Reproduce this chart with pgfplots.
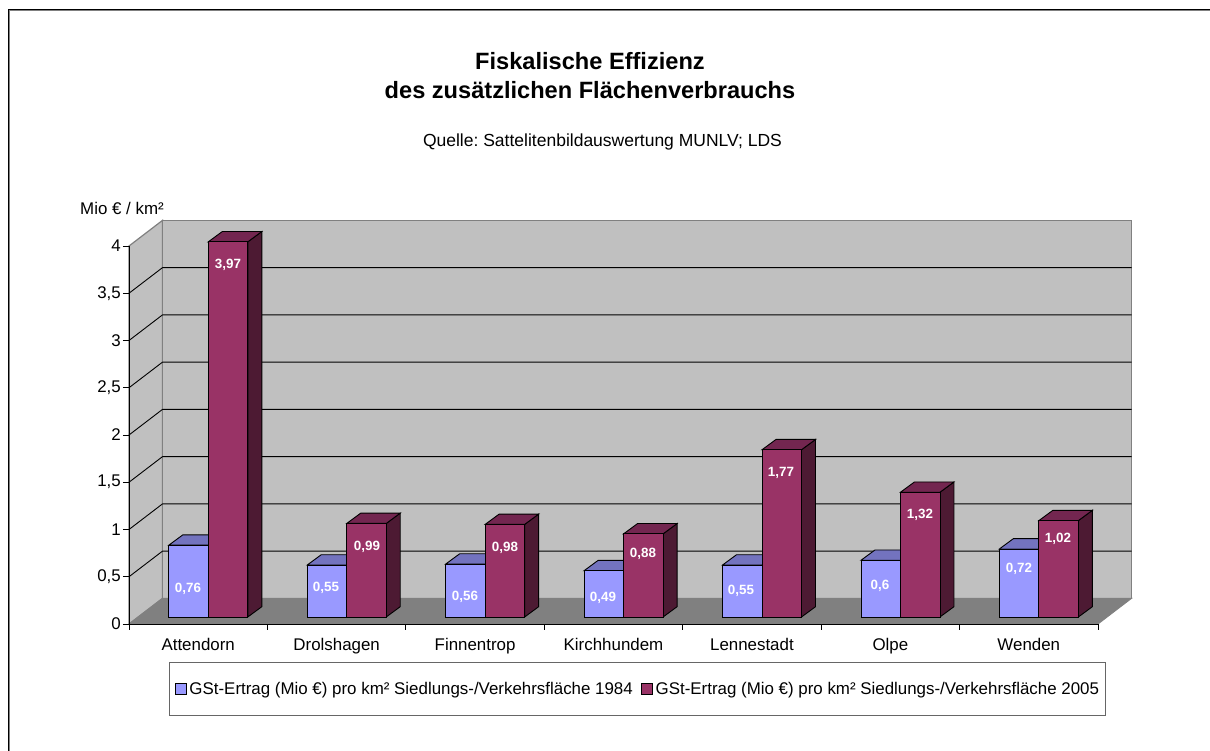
\documentclass[border=0pt]{standalone}
\usepackage{fontspec}
\setmainfont{Liberation Sans}
\usepackage{pgfplots}
\usepackage{pgfplotstable}
\pgfplotsset{compat=1.18}

\definecolor{wall}{HTML}{C0C0C0}
\definecolor{floorc}{HTML}{808080}
\definecolor{edgec}{HTML}{808080}
\definecolor{barA}{HTML}{9999FF}
\definecolor{barAtop}{HTML}{7373BF}
\definecolor{barB}{HTML}{993366}
\definecolor{barBtop}{HTML}{732650}
\definecolor{barBside}{HTML}{4D1A33}

\newcommand\fs[1]{\fontsize{#1}{#1}\selectfont}

% x = category centre, a = 1984, b = 2005
\pgfplotstableread{
x   a    b
0.5 0.76 3.97
1.5 0.55 0.99
2.5 0.56 0.98
3.5 0.49 0.88
4.5 0.55 1.77
5.5 0.60 1.32
6.5 0.72 1.02
}\gst

\def\barw{0.2853}
\def\ddx{0.1011}
\def\ddy{0.109}

\pgfplotsset{
  gridl/.style={black, line width=0.9pt, forget plot},
  frontplane/.style={shift={(10.1pt,7pt)}},
}

% top and side face of one bar: left x, value, top colour, side colour
\newcommand\barfaces[4]{%
  \edef\tmp{%
    \noexpand\addplot[frontplane, fill=#4, draw=black, line width=0.9pt, forget plot] coordinates {
      (\fpeval{#1+\barw},0) (\fpeval{#1+\barw+\ddx},\ddy)
      (\fpeval{#1+\barw+\ddx},\fpeval{#2+\ddy}) (\fpeval{#1+\barw},#2)} --cycle;
    \noexpand\addplot[frontplane, fill=#3, draw=black, line width=0.9pt, forget plot] coordinates {
      (#1,#2) (\fpeval{#1+\barw},#2)
      (\fpeval{#1+\barw+\ddx},\fpeval{#2+\ddy}) (\fpeval{#1+\ddx},\fpeval{#2+\ddy})} --cycle;
  }\tmp
}

\newcommand\lab[3]{\node[font=\fs{13.4}\bfseries, text=white, inner sep=0pt] at (#1pt-129pt,624pt-#2pt-1pt) {#3};}

\frenchspacing
\begin{document}
\begin{tikzpicture}
\useasboundingbox (-129pt,-127pt) rectangle (1081pt,624pt);
% outer frame, black with a grey inner edge
\draw[edgec, line width=1pt] (-119.5pt,-127pt) -- (-119.5pt,613.5pt) -- (1081pt,613.5pt);
\draw[black, line width=1pt] (-120.5pt,-127pt) -- (-120.5pt,614.5pt) -- (1081pt,614.5pt);

\begin{axis}[
  scale only axis,
  width=969pt, height=378pt,
  xmin=0, xmax=7, ymin=0, ymax=4,
  clip=false,
  axis on top,
  axis x line=bottom, axis y line=left,
  axis line style={-, black, line width=0.9pt},
  xtick={0,...,7},
  xticklabels={},
  extra x ticks={0.5,1.5,2.5,3.5,4.5,5.5,6.5},
  extra x tick labels={Attendorn,Drolshagen,Finnentrop,Kirchhundem,Lennestadt,Olpe,Wenden},
  extra x tick style={major tick length=0pt, tick label style={yshift=-11pt}},
  ytick={0,0.5,1,1.5,2,2.5,3,3.5,4},
  tick align=outside,
  major tick length=6pt,
  tick style={black, line width=0.9pt},
  tick label style={font=\fs{16.9}},
  /pgf/number format/use comma,
  /pgf/number format/assume math mode=true,
  yticklabel style={inner sep=1pt, xshift=-1pt},
  legend columns=2,
  legend cell align=left,
  legend style={
    at={(axis description cs:0.5246,-0.172)}, anchor=center,
    font=\fs{16.9}, draw=black!60, line width=0.9pt, fill=white,
    inner xsep=5.5pt, inner ysep=19pt,
    /tikz/every even column/.append style={column sep=8pt},
    nodes={inner sep=0.5pt},
  },
  legend image code/.code={\draw[#1, line width=0.8pt] (0pt,-5pt) rectangle (11pt,6pt); \path (13pt,0pt);},
]
% walls and floor
\addplot[fill=wall, draw=edgec, line width=1.2pt, forget plot] coordinates {(0,0) (0.242,0.271) (0.242,4.271) (0,4)} --cycle;
\addplot[fill=wall, draw=edgec, line width=1.2pt, forget plot] coordinates {(0.242,0.271) (7.242,0.271) (7.242,4.271) (0.242,4.271)} --cycle;
\addplot[fill=floorc, draw=edgec, line width=0.9pt, forget plot] coordinates {(0,0) (7,0) (7.242,0.271) (0.242,0.271)} --cycle;
% grid lines
\addplot[gridl] coordinates {(0,0.5) (0.242,0.771) (7.242,0.771)};
\addplot[gridl] coordinates {(0,1) (0.242,1.271) (7.242,1.271)};
\addplot[gridl] coordinates {(0,1.5) (0.242,1.771) (7.242,1.771)};
\addplot[gridl] coordinates {(0,2) (0.242,2.271) (7.242,2.271)};
\addplot[gridl] coordinates {(0,2.5) (0.242,2.771) (7.242,2.771)};
\addplot[gridl] coordinates {(0,3) (0.242,3.271) (7.242,3.271)};
\addplot[gridl] coordinates {(0,3.5) (0.242,3.771) (7.242,3.771)};

% depth faces of the bars
\pgfplotsinvokeforeach{0,...,6}{
  \pgfplotstablegetelem{#1}{x}\of\gst \let\vx\pgfplotsretval
  \pgfplotstablegetelem{#1}{a}\of\gst \let\va\pgfplotsretval
  \pgfplotstablegetelem{#1}{b}\of\gst \let\vb\pgfplotsretval
  \barfaces{\fpeval{\vx-\barw}}{\va}{barAtop}{barAtop}
  \barfaces{\vx}{\vb}{barBtop}{barBside}
}

% front faces
\addplot[ybar, frontplane, bar width=39.5pt, bar shift=-19.75pt, fill=barA, draw=black, line width=0.9pt, forget plot]
  table[x=x, y=a] {\gst};
\addplot[ybar, frontplane, bar width=39.5pt, bar shift=19.75pt, fill=barB, draw=black, line width=0.9pt, forget plot]
  table[x=x, y=b] {\gst};

\addlegendimage{fill=barA, draw=black}
\addlegendentry{GSt-Ertrag (Mio €) pro km² Siedlungs-/Verkehrsfläche 1984}
\addlegendimage{fill=barB, draw=black}
\addlegendentry{GSt-Ertrag (Mio €) pro km² Siedlungs-/Verkehrsfläche 2005}
\end{axis}

% value labels
\lab{188}{588}{0,76} \lab{228}{264}{3,97}
\lab{326}{587}{0,55} \lab{367}{546}{0,99}
\lab{465}{596}{0,56} \lab{505}{547}{0,98}
\lab{603}{597}{0,49} \lab{643}{553}{0,88}
\lab{741}{590}{0,55} \lab{781}{472}{1,77}
\lab{880}{585}{0,6}  \lab{920}{514}{1,32}
\lab{1019}{568}{0,72} \lab{1058}{538}{1,02}

% titles
\node[align=center, inner sep=0pt] at (590pt-129pt,624pt-75.5pt)
  {\fs{23.6}\bfseries Fiskalische Effizienz\\[11pt]\fs{23.6}\bfseries des zusätzlichen Flächenverbrauchs};
\node[font=\fs{17.5}, inner sep=0pt] at (602.5pt-129pt,624pt-142pt) {Quelle: Sattelitenbildauswertung MUNLV; LDS};
\node[font=\fs{16.9}, inner sep=0pt, anchor=west] at (80pt-129pt,624pt-208pt) {Mio € / km²};
\end{tikzpicture}
\end{document}
